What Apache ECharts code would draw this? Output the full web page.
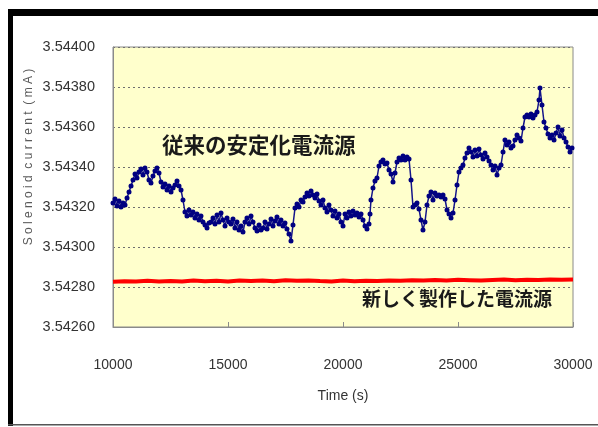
<!DOCTYPE html>
<html>
<head>
<meta charset="utf-8">
<script src="https://cdn.jsdelivr.net/npm/echarts@6/dist/echarts.min.js"></script>
<style>
  html, body { margin: 0; padding: 0; background: #ffffff; }
  #chart { width: 598px; height: 427px; }
</style>
</head>
<body>
<div id="chart"></div>
<script>
// Conventional stabilised supply: sample times (s) and solenoid current (mA)
const timeOld = [
  10000, 10087, 10174, 10261, 10348, 10435, 10522, 10609, 10696, 10783,
  10870, 10957, 11043, 11130, 11217, 11304, 11391, 11478, 11565, 11652,
  11739, 11826, 11913, 12000, 12087, 12174, 12261, 12348, 12435, 12522,
  12609, 12696, 12783, 12870, 12957, 13043, 13130, 13217, 13304, 13391,
  13478, 13565, 13652, 13739, 13826, 13913, 14000, 14087, 14174, 14261,
  14348, 14435, 14522, 14609, 14696, 14783, 14870, 14957, 15043,
  15130, 15217, 15304, 15391, 15478, 15565, 15652, 15739, 15826, 15913,
  16000, 16087, 16174, 16261, 16348, 16435, 16522, 16609, 16696, 16783,
  16870, 16957, 17043, 17130, 17217, 17304, 17391, 17478, 17565, 17652,
  17739, 17826, 17913, 18000, 18087, 18174, 18261, 18348, 18435, 18522,
  18609, 18696, 18783, 18870, 18957, 19043, 19130, 19217, 19304, 19391,
  19478, 19565, 19652, 19739, 19826,
  19913, 20000, 20087, 20174, 20261, 20348, 20435, 20522, 20609, 20696,
  20783, 20870, 20957, 21043, 21130, 21174, 21217, 21304, 21391, 21478,
  21565, 21652, 21739, 21826, 21913, 22000, 22087, 22174, 22261, 22348,
  22435, 22522, 22609, 22696, 22783, 22870, 22957, 23043, 23130, 23217,
  23304, 23391, 23478, 23565, 23652, 23739, 23826, 23913, 24000, 24087,
  24174, 24261, 24348, 24435, 24522, 24609, 24696, 24783, 24870, 24957,
  25043,
  25130, 25217, 25304, 25391, 25478, 25565, 25652, 25739, 25826, 25913,
  26000, 26087, 26174, 26261, 26348, 26435, 26522, 26609, 26696, 26783,
  26870, 26957, 27043, 27130, 27217, 27304, 27391, 27478, 27565, 27652,
  27739, 27826, 27913, 28000, 28087, 28174, 28261, 28348, 28435, 28522,
  28565, 28652, 28739, 28826, 28913, 29000, 29087, 29174, 29261, 29348,
  29435, 29522, 29609, 29696, 29783, 29870, 29957
];
const currentOld = [
  3.543220, 3.543240, 3.543205, 3.543230, 3.543200, 3.543220, 3.543210, 3.543245, 3.543275, 3.543305,
  3.543335, 3.543365, 3.543345, 3.543375, 3.543390, 3.543360, 3.543395, 3.543375, 3.543335, 3.543320,
  3.543355, 3.543380, 3.543395, 3.543370, 3.543325, 3.543300, 3.543315, 3.543285, 3.543305, 3.543275,
  3.543295, 3.543310, 3.543330, 3.543305, 3.543285, 3.543235, 3.543175, 3.543155, 3.543185, 3.543160,
  3.543175, 3.543145, 3.543165, 3.543135, 3.543155, 3.543125, 3.543110, 3.543095, 3.543120, 3.543125,
  3.543145, 3.543115, 3.543160, 3.543125, 3.543170, 3.543135, 3.543105, 3.543145, 3.543125,
  3.543115, 3.543140, 3.543095, 3.543125, 3.543085, 3.543105, 3.543075, 3.543125, 3.543145, 3.543115,
  3.543155, 3.543125, 3.543095, 3.543080, 3.543110, 3.543085, 3.543095, 3.543125, 3.543090, 3.543115,
  3.543140, 3.543105, 3.543130, 3.543150, 3.543115, 3.543135, 3.543105, 3.543120, 3.543090, 3.543065,
  3.543030, 3.543110, 3.543195, 3.543215, 3.543200, 3.543235, 3.543225, 3.543250, 3.543270, 3.543255,
  3.543280, 3.543260, 3.543245, 3.543265, 3.543230, 3.543210, 3.543235, 3.543195, 3.543175, 3.543210,
  3.543185, 3.543155, 3.543180, 3.543145, 3.543165,
  3.543125, 3.543105, 3.543165, 3.543145, 3.543175, 3.543155, 3.543180, 3.543160, 3.543170, 3.543150,
  3.543165, 3.543135, 3.543105, 3.543090, 3.543115, 3.543165, 3.543235, 3.543295, 3.543330, 3.543345,
  3.543405, 3.543425, 3.543435, 3.543415, 3.543420, 3.543385, 3.543365, 3.543325, 3.543370, 3.543425,
  3.543445, 3.543435, 3.543455, 3.543435, 3.543450, 3.543440, 3.543335, 3.543200, 3.543210, 3.543220,
  3.543190, 3.543135, 3.543085, 3.543125, 3.543210, 3.543255, 3.543275, 3.543235, 3.543270, 3.543255,
  3.543260, 3.543250, 3.543260, 3.543240, 3.543185, 3.543165, 3.543145, 3.543170, 3.543235, 3.543310,
  3.543375,
  3.543395, 3.543410, 3.543445, 3.543470, 3.543495, 3.543475, 3.543450, 3.543485, 3.543455, 3.543490,
  3.543460, 3.543440, 3.543470, 3.543450, 3.543430, 3.543410, 3.543385, 3.543405, 3.543360, 3.543395,
  3.543410, 3.543475, 3.543535, 3.543510, 3.543525, 3.543495, 3.543505, 3.543535, 3.543560, 3.543545,
  3.543530, 3.543595, 3.543650, 3.543660, 3.543650, 3.543665, 3.543645, 3.543660, 3.543675, 3.543735,
  3.543795, 3.543710, 3.543625, 3.543595, 3.543565, 3.543545, 3.543560, 3.543535, 3.543570, 3.543600,
  3.543555, 3.543585, 3.543545, 3.543525, 3.543500, 3.543475, 3.543495
];

// Newly built supply: sample times (s) and solenoid current (mA)
const timeNew = [
  10000, 10500, 11000, 11500, 12000, 12500, 13000, 13500, 14000, 14500,
  15000, 15500, 16000, 16500, 17000, 17500, 18000, 18500, 19000, 19500,
  20000, 20500, 21000, 21500, 22000, 22500, 23000, 23500, 24000, 24500,
  25000, 25500, 26000, 26500, 27000, 27500, 28000, 28500, 29000, 29500,
  30000
];
const currentNew = [
  3.542826, 3.542829, 3.542827, 3.542831, 3.542828, 3.542830, 3.542827, 3.542832, 3.542829, 3.542831,
  3.542828, 3.542833, 3.542830, 3.542832, 3.542829, 3.542834, 3.542831, 3.542833, 3.542830, 3.542828,
  3.542832, 3.542829, 3.542831, 3.542830, 3.542833, 3.542831, 3.542834, 3.542832, 3.542835, 3.542833,
  3.542836, 3.542834, 3.542832, 3.542835, 3.542837, 3.542834, 3.542836, 3.542835, 3.542838, 3.542836,
  3.542837
];

// Axis ranges and tick steps
const xMin = 10000, xMax = 30000, xStep = 5000;
const yMin = 3.5426, yMax = 3.5440, yStep = 0.0002;
const yDecimals = 5;

const labelOld = '従来の安定化電流源';
const labelNew = '新しく製作した電流源';
const xTitle = 'Time (s)';
const yTitle = 'S o l e n o i d  c u r r e n t  ( m A )';

const numFont = '"Liberation Sans", Arial, sans-serif';
const jpFont = '"Noto Sans CJK JP", sans-serif';

const chart = echarts.init(document.getElementById('chart'), null, { renderer: 'canvas' });

chart.setOption({
  animation: false,
  backgroundColor: '#ffffff',
  grid: {
    left: 113, top: 47, width: 460, height: 280,
    show: true,
    backgroundColor: '#ffffcc',
    borderColor: '#8a8a8a',
    borderWidth: 1
  },
  xAxis: {
    type: 'value',
    min: xMin, max: xMax, interval: xStep,
    name: xTitle,
    nameLocation: 'middle',
    nameGap: 62,
    nameTextStyle: { fontFamily: numFont, fontSize: 14, color: '#333333' },
    axisLine: { show: true, lineStyle: { color: '#8a8a8a', width: 1 } },
    axisTick: { show: true, inside: true, length: 5, lineStyle: { color: '#8a8a8a' } },
    axisLabel: {
      margin: 31, fontFamily: numFont, fontSize: 14, color: '#333333',
      formatter: v => String(v)
    },
    splitLine: { show: false }
  },
  yAxis: {
    type: 'value',
    min: yMin, max: yMax, interval: yStep,
    axisLine: { show: true, lineStyle: { color: '#8a8a8a', width: 1 } },
    axisTick: { show: false },
    axisLabel: {
      margin: 18, fontFamily: numFont, fontSize: 14.5, color: '#333333',
      formatter: v => v.toFixed(yDecimals)
    },
    splitLine: { show: true, lineStyle: { color: '#6f6f6f', width: 1.2, type: [2, 3] } }
  },
  series: [
    {
      name: labelOld,
      type: 'line',
      data: timeOld.map((t, i) => [t, currentOld[i]]),
      symbol: 'circle',
      symbolSize: 5,
      showSymbol: true,
      itemStyle: { color: '#000080' },
      lineStyle: { color: '#14148a', width: 1.5 },
      z: 3
    },
    {
      name: labelNew,
      type: 'line',
      data: timeNew.map((t, i) => [t, currentNew[i]]),
      symbol: 'none',
      lineStyle: { color: '#ff0000', width: 4 },
      z: 2
    }
  ],
  graphic: [
    // outer frame
    { type: 'rect', shape: { x: 8, y: 9, width: 590, height: 7 }, style: { fill: '#000000' }, z: 100 },
    { type: 'rect', shape: { x: 8, y: 9, width: 5, height: 417 }, style: { fill: '#000000' }, z: 100 },
    { type: 'rect', shape: { x: 8, y: 424, width: 590, height: 1.5 }, style: { fill: '#555555' }, z: 100 },
    // series annotations
    { type: 'text', x: 162, y: 145, style: { text: labelOld, font: 'bold 21.5px ' + jpFont, fill: '#1a1a1a', verticalAlign: 'middle' }, z: 50 },
    { type: 'text', x: 362, y: 299, style: { text: labelNew, font: 'bold 19px ' + jpFont, fill: '#1a1a1a', verticalAlign: 'middle' }, z: 50 },
    // vertical axis title
    { type: 'text', x: 29, y: 157, rotation: Math.PI / 2,
      style: { text: yTitle, font: '12px "Liberation Sans", Arial, sans-serif', fill: '#5a5a5a', align: 'center', verticalAlign: 'middle' }, z: 50 }
  ]
});
</script>
</body>
</html>
